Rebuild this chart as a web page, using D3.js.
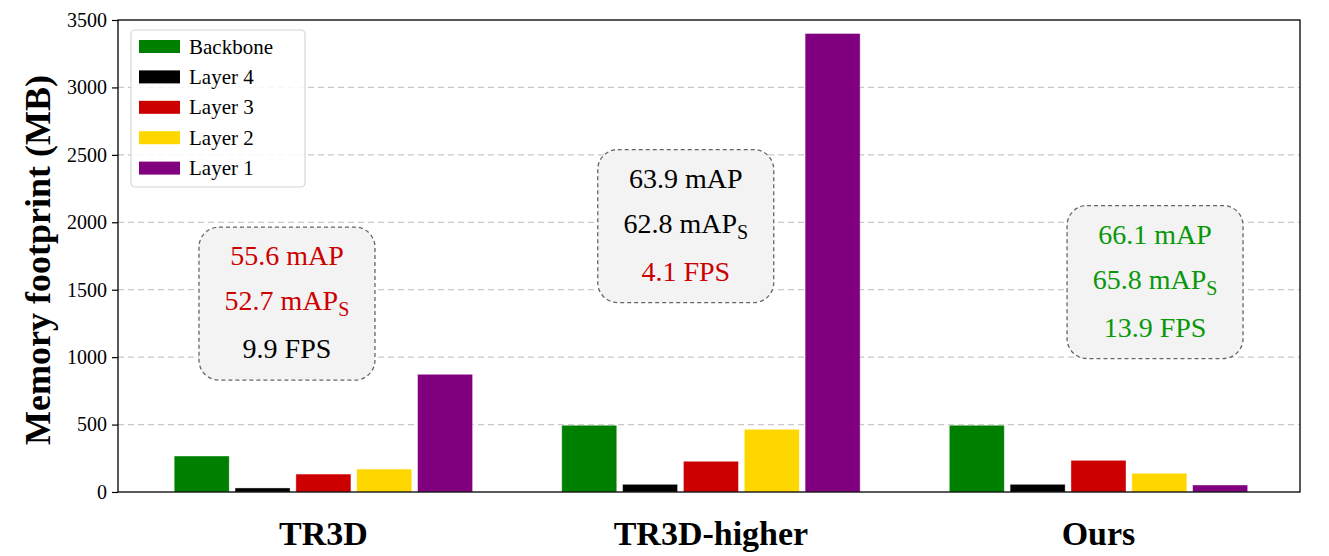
<!DOCTYPE html>
<html>
<head>
<meta charset="utf-8">
<script src="https://cdn.jsdelivr.net/npm/d3@7"></script>
<style>
  html, body { margin: 0; padding: 0; background: #fff; }
  svg { display: block; }
</style>
</head>
<body>
<svg id="chart" width="1329" height="556" style="font-family: 'Liberation Serif', 'Times New Roman', Times, serif;"></svg>
<script>
// ---- data ----
const categories = ["TR3D", "TR3D-higher", "Ours"];
const seriesNames = ["Backbone", "Layer 4", "Layer 3", "Layer 2", "Layer 1"];
const backbone = [267, 495, 495];
const layer4 = [30, 57, 57];
const layer3 = [133, 228, 235];
const layer2 = [170, 465, 139];
const layer1 = [873, 3400, 52];
const yTicks = [0, 500, 1000, 1500, 2000, 2500, 3000, 3500];
const seriesColors = ["#008000", "#000000", "#cc0000", "#ffd700", "#800080"];

const annotationLines = [
  [{t: "55.6 mAP", c: "red"}, {t: "52.7 mAP", sub: "S", c: "red"}, {t: "9.9 FPS", c: "black"}],
  [{t: "63.9 mAP", c: "black"}, {t: "62.8 mAP", sub: "S", c: "black"}, {t: "4.1 FPS", c: "red"}],
  [{t: "66.1 mAP", c: "green"}, {t: "65.8 mAP", sub: "S", c: "green"}, {t: "13.9 FPS", c: "green"}]
];
const textColors = {red: "#cc0000", black: "#000000", green: "#0a980a"};

// ---- layout ----
const SERIF = "'Liberation Serif', 'Times New Roman', Times, serif";
const plot = {left: 118, right: 1300, top: 20, bottom: 492};
const svg = d3.select("#chart");

const x = d3.scaleLinear().domain([-0.53, 2.52]).range([plot.left, plot.right]);
const y = d3.scaleLinear().domain([0, 3500]).range([plot.bottom, plot.top]);

const seriesValues = [backbone, layer4, layer3, layer2, layer1];
const barStep = 0.157, barWidth = 0.142;

// grid
svg.append("g").selectAll("line")
  .data(yTicks.filter(d => d > 0 && d < 3500))
  .join("line")
  .attr("x1", plot.left).attr("x2", plot.right)
  .attr("y1", d => y(d)).attr("y2", d => y(d))
  .attr("stroke", "#c8c8c8").attr("stroke-width", 1.2)
  .attr("stroke-dasharray", "6,4");

// bars
const barsG = svg.append("g");
seriesValues.forEach((vals, si) => {
  barsG.selectAll(null)
    .data(vals.map((v, ci) => ({v, ci})))
    .join("rect")
    .attr("x", d => x(d.ci + (si - 2) * barStep - barWidth / 2))
    .attr("width", d => x(barWidth) - x(0))
    .attr("y", d => y(d.v))
    .attr("height", d => y(0) - y(d.v))
    .attr("fill", seriesColors[si])
    .attr("stroke", "#ffffff").attr("stroke-opacity", 0.5).attr("stroke-width", 0.8);
});

// annotation boxes (layout anchors in data coords)
const boxCenters = [[-0.094, 1397], [0.935, 1972], [2.146, 1557]];
const boxW = 176, boxH = 153;
annotationLines.forEach((lines, i) => {
  const cx = x(boxCenters[i][0]), cy = y(boxCenters[i][1]);
  const g = svg.append("g");
  g.append("rect")
    .attr("x", cx - boxW / 2).attr("y", cy - boxH / 2)
    .attr("width", boxW).attr("height", boxH)
    .attr("rx", 20).attr("ry", 20)
    .attr("fill", "#f3f3f3")
    .attr("stroke", "#666").attr("stroke-width", 1.3)
    .attr("stroke-dasharray", "4,3");
  const offs = [38, 83, 131];
  lines.forEach((ln, li) => {
    const t = g.append("text")
      .attr("x", cx).attr("y", cy - boxH / 2 + offs[li])
      .attr("text-anchor", "middle")
      .style("font-family", SERIF)
      .style("font-size", "28px")
      .attr("fill", textColors[ln.c]);
    t.append("tspan").text(ln.t);
    if (ln.sub) {
      t.append("tspan").style("font-size", "20px").attr("dy", 6).text(ln.sub);
    }
  });
});

// axes
const yAxis = d3.axisLeft(y).tickValues(yTicks).tickSize(6).tickPadding(5).tickFormat(d3.format("d"));
const yg = svg.append("g").attr("transform", `translate(${plot.left},0)`).call(yAxis);
yg.attr("font-family", null).attr("font-size", null);
yg.select(".domain").remove();
yg.selectAll(".tick line").attr("stroke", "#000").attr("stroke-width", 1.2);
yg.selectAll(".tick text").style("font-family", SERIF).style("font-size", "20px").attr("fill", "#000");

// frame
svg.append("rect")
  .attr("x", plot.left).attr("y", plot.top)
  .attr("width", plot.right - plot.left).attr("height", plot.bottom - plot.top)
  .attr("fill", "none").attr("stroke", "#000").attr("stroke-width", 1.3);

// x category labels
svg.append("g").selectAll("text")
  .data(categories)
  .join("text")
  .attr("x", (d, i) => x(i))
  .attr("y", 545)
  .attr("text-anchor", "middle")
  .style("font-family", SERIF)
  .style("font-size", "34px")
  .style("font-weight", "bold")
  .text(d => d);

// y label
svg.append("text")
  .attr("transform", `translate(50,260) rotate(-90)`)
  .attr("text-anchor", "middle")
  .style("font-family", SERIF)
  .style("font-size", "36px")
  .style("font-weight", "bold")
  .text("Memory footprint (MB)");

// legend
const lg = svg.append("g");
lg.append("rect")
  .attr("x", 131).attr("y", 30).attr("width", 174).attr("height", 157)
  .attr("rx", 4).attr("fill", "#fff").attr("fill-opacity", 0.85)
  .attr("stroke", "#d6d6d6").attr("stroke-width", 1.2);
seriesNames.forEach((name, i) => {
  const cy = 46.5 + i * 30.4;
  lg.append("rect").attr("x", 139).attr("y", cy - 6.5).attr("width", 41).attr("height", 13)
    .attr("fill", seriesColors[i]);
  lg.append("text").attr("x", 189).attr("y", cy + 7)
    .style("font-family", SERIF).style("font-size", "21px").text(name);
});
</script>
</body>
</html>
